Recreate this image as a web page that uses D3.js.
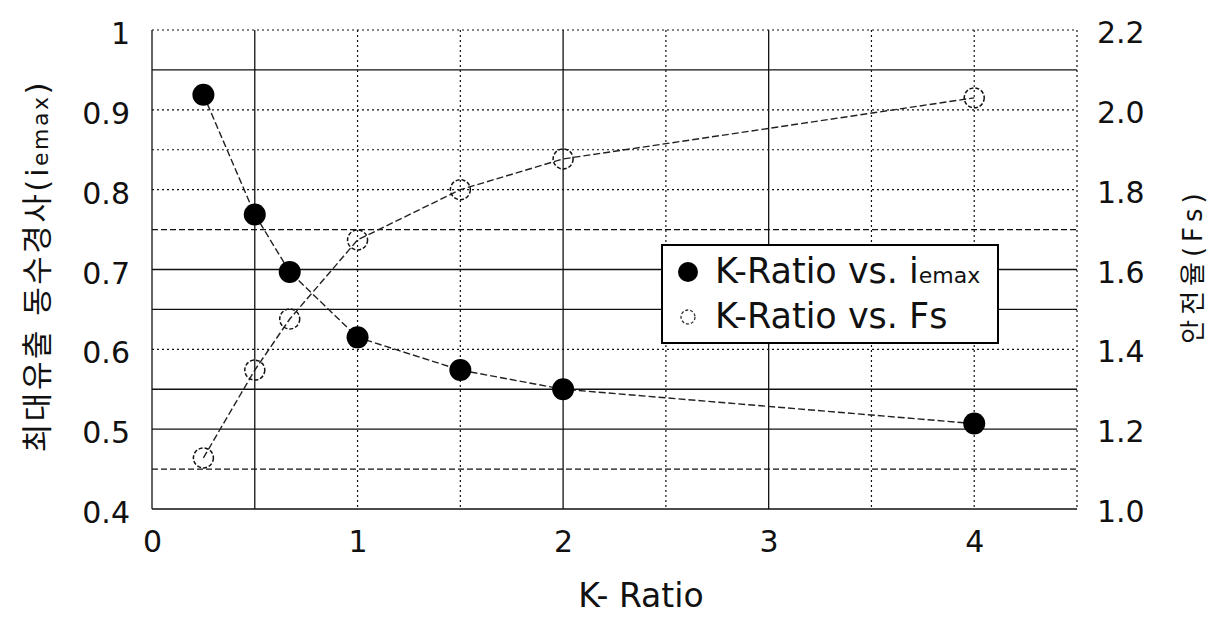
<!DOCTYPE html>
<html><head><meta charset="utf-8">
<script src="https://cdn.jsdelivr.net/npm/d3@7/dist/d3.min.js"></script>
<style>
html,body{margin:0;padding:0;background:#fff;}
svg{display:block;}
</style></head>
<body>
<svg id="chart" width="1218" height="617"></svg>
<script>
// ---- data ----
const kRatio = [0.25, 0.5, 0.67, 1, 1.5, 2, 4];
const iemax  = [0.919, 0.769, 0.697, 0.615, 0.574, 0.550, 0.507];
const fs     = [1.128, 1.348, 1.476, 1.674, 1.800, 1.877, 2.030];
const xTicks = [0, 1, 2, 3, 4];
const yLeftTicks = [0.4, 0.5, 0.6, 0.7, 0.8, 0.9, 1.0];
const yRightTicks = [1.0, 1.2, 1.4, 1.6, 1.8, 2.0, 2.2];
const xLabel = "K- Ratio";
const yLeftLabel = ["최대유출 동수경사(i", "emax", ")"];
const yRightLabel = "안전율(Fs)";
const legendLabels = [["K-Ratio vs. i", "emax"], ["K-Ratio vs. Fs", ""]];

// ---- layout ----
const L = 152, R = 1077, T = 30, B = 509;
const FONT = "'DejaVu Sans', 'Noto Sans CJK KR', sans-serif";
const svg = d3.select("#chart");

const x = d3.scaleLinear().domain([0, 4.5]).range([L, R]);
const yL = d3.scaleLinear().domain([0.4, 1.0]).range([B, T]);
const yR = d3.scaleLinear().domain([1.0, 2.2]).range([B, T]);

// gridlines (styles)
const solidX = new Set(["0", "0.5", "2", "3"]);
const xGrid = d3.range(0, 4.51, 0.5).map(v => +v.toFixed(2));
const solidY = new Set(["0.95", "0.7", "0.65", "0.55", "0.5", "0.4"]);
const dashedY = new Set(["0.75", "0.45"]);
const yGrid = d3.range(0.4, 1.001, 0.05).map(v => +v.toFixed(2));

const grid = svg.append("g");
grid.selectAll("line.gx").data(xGrid).join("line")
  .attr("x1", d => x(d)).attr("x2", d => x(d))
  .attr("y1", T).attr("y2", B)
  .attr("stroke", "#111")
  .attr("stroke-width", d => solidX.has(String(d)) ? 1.3 : 1.2)
  .attr("stroke-dasharray", d => solidX.has(String(d)) ? null : "2,3");
grid.selectAll("line.gy").data(yGrid).join("line")
  .attr("x1", L).attr("x2", R)
  .attr("y1", d => yL(d)).attr("y2", d => yL(d))
  .attr("stroke", "#111")
  .attr("stroke-width", d => solidY.has(String(d)) ? 1.3 : 1.2)
  .attr("stroke-dasharray", d => solidY.has(String(d)) ? null : (dashedY.has(String(d)) ? "6,3" : "2,3"));

// axes
const axL = svg.append("g").attr("transform", `translate(${L},0)`)
  .call(d3.axisLeft(yL).tickValues(yLeftTicks).tickSize(0).tickPadding(22)
        .tickFormat(d => d === 1 ? "1" : d3.format(".1f")(d)));
const axR = svg.append("g").attr("transform", `translate(${R},0)`)
  .call(d3.axisRight(yR).tickValues(yRightTicks).tickSize(0).tickPadding(20)
        .tickFormat(d3.format(".1f")));
const axB = svg.append("g").attr("transform", `translate(0,${B})`)
  .call(d3.axisBottom(x).tickValues(xTicks).tickSize(0).tickFormat(d3.format("d")));
[axL, axR, axB].forEach(a => {
  a.select(".domain").remove();
  a.selectAll("text").attr("font-family", FONT).attr("font-size", 30).attr("fill", "#111");
});
axL.selectAll("text").attr("dy", "0.45em");
axR.selectAll("text").attr("dy", "0.42em");
axB.selectAll("text").attr("y", 43).attr("dy", 0);

// lines
const lineI = d3.line().x((d, i) => x(kRatio[i])).y(d => yL(d));
const lineF = d3.line().x((d, i) => x(kRatio[i])).y(d => yR(d));
svg.append("path").datum(iemax).attr("d", lineI)
  .attr("fill", "none").attr("stroke", "#222").attr("stroke-width", 1.4).attr("stroke-dasharray", "7,3");
svg.append("path").datum(fs).attr("d", lineF)
  .attr("fill", "none").attr("stroke", "#222").attr("stroke-width", 1.4).attr("stroke-dasharray", "7,3");

// markers
svg.append("g").selectAll("circle").data(iemax).join("circle")
  .attr("cx", (d, i) => x(kRatio[i])).attr("cy", d => yL(d)).attr("r", 11)
  .attr("fill", "#000");
svg.append("g").selectAll("circle").data(fs).join("circle")
  .attr("cx", (d, i) => x(kRatio[i])).attr("cy", d => yR(d)).attr("r", 10)
  .attr("fill", "none").attr("stroke", "#111").attr("stroke-width", 1.5).attr("stroke-dasharray", "4,2");

// legend
const lg = svg.append("g");
lg.append("rect").attr("x", 662).attr("y", 245).attr("width", 336).attr("height", 98)
  .attr("fill", "#fff").attr("stroke", "#000").attr("stroke-width", 2);
lg.append("circle").attr("cx", 688).attr("cy", 272).attr("r", 10).attr("fill", "#000");
lg.append("circle").attr("cx", 688).attr("cy", 317).attr("r", 7)
  .attr("fill", "none").attr("stroke", "#333").attr("stroke-width", 1.3).attr("stroke-dasharray", "3,2");
legendLabels.forEach((lab, i) => {
  const t = lg.append("text").attr("x", 715).attr("y", 283 + i * 45)
    .attr("font-family", FONT).attr("font-size", 35).attr("fill", "#111");
  t.append("tspan").text(lab[0]);
  if (lab[1]) t.append("tspan").attr("font-size", 22).text(lab[1]);
});

// axis titles
svg.append("text").attr("x", 641).attr("y", 607).attr("text-anchor", "middle")
  .attr("font-family", FONT).attr("font-size", 33).attr("fill", "#111").text(xLabel);

const tl = svg.append("text").attr("transform", "translate(48,266) rotate(-90)")
  .attr("text-anchor", "middle").attr("font-family", FONT).attr("font-size", 31)
  .attr("letter-spacing", 2.5).attr("fill", "#111");
tl.append("tspan").text(yLeftLabel[0]);
tl.append("tspan").attr("font-size", 22).text(yLeftLabel[1]);
tl.append("tspan").text(yLeftLabel[2]);

svg.append("text").attr("transform", "translate(1202,266) rotate(-90)")
  .attr("text-anchor", "middle").attr("font-family", FONT).attr("font-size", 26)
  .attr("letter-spacing", 5).attr("fill", "#111").text(yRightLabel);
</script>
</body></html>
